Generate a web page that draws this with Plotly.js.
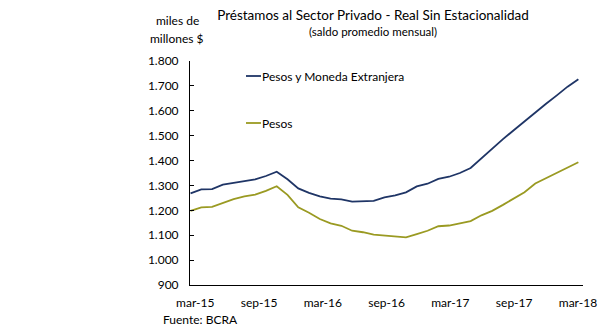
<!DOCTYPE html>
<html>
<head>
<meta charset="utf-8">
<script src="https://cdn.plot.ly/plotly-3.0.1.min.js"></script>
<style>
  html, body { margin: 0; padding: 0; background: #ffffff; }
  #chart { width: 608px; height: 328px; }
</style>
</head>
<body>
<div id="chart"></div>
<script>
// Monthly periods, mar-15 .. mar-18
const months = [
  'mar-15','abr-15','may-15','jun-15','jul-15','ago-15','sep-15','oct-15','nov-15','dic-15',
  'ene-16','feb-16','mar-16','abr-16','may-16','jun-16','jul-16','ago-16','sep-16','oct-16','nov-16','dic-16',
  'ene-17','feb-17','mar-17','abr-17','may-17','jun-17','jul-17','ago-17','sep-17','oct-17','nov-17','dic-17',
  'ene-18','feb-18','mar-18'
];

// Pesos y Moneda Extranjera (miles de millones $)
const pesosYME = [
  1268, 1284, 1285, 1303, 1310, 1317, 1324, 1338, 1355, 1325,
  1288, 1270, 1256, 1247, 1244, 1235, 1236, 1238, 1252, 1260, 1272, 1296,
  1307, 1326, 1335, 1350, 1370, 1410, 1450, 1486, 1522, 1558, 1593, 1628,
  1662, 1697, 1727
];

// Pesos (miles de millones $)
const pesos = [
  1198, 1212, 1214, 1230, 1245, 1256, 1263, 1278, 1297, 1262,
  1212, 1190, 1165, 1148, 1138, 1118, 1112, 1102, 1098, 1092, 1091, 1104,
  1118, 1136, 1139, 1148, 1157, 1180, 1198, 1222, 1248, 1273, 1308, 1329,
  1348, 1371, 1393
];

const tickLabels = ['mar-15','sep-15','mar-16','sep-16','mar-17','sep-17','mar-18'];
const seriesNames = ['Pesos y Moneda Extranjera', 'Pesos'];

const COL_BLUE = '#1f3566';
const COL_OLIVE = '#9a9a22';
const FONT = 'Lato, "Open Sans", sans-serif';

const xIdx = months.map((m, i) => i);

// axis layout constants (positions in month-index units)
const X_RANGE = [-0.05, 36.43];
const STEP = 5.92;
const labelPos = tickLabels.map((t, k) => 0.44 + STEP * k);
const tickPos = tickLabels.map((t, k) => -0.05 + STEP * k).slice(1);

// plot-area geometry helpers (pixels -> paper)
const PL = 190, PW = 393, PT = 61, PH = 224;
const px = v => (v - PL) / PW;
const py = v => 1 - (v - PT) / PH;

const traces = [
  {
    x: xIdx, y: pesosYME, type: 'scatter', mode: 'lines', name: seriesNames[0],
    line: { color: COL_BLUE, width: 1.8 }, showlegend: false, xaxis: 'x', yaxis: 'y'
  },
  {
    x: xIdx, y: pesos, type: 'scatter', mode: 'lines', name: seriesNames[1],
    line: { color: COL_OLIVE, width: 1.8 }, showlegend: false, xaxis: 'x', yaxis: 'y'
  }
];

const layout = {
  width: 608, height: 328,
  margin: { l: PL, r: 608 - PL - PW, t: PT, b: 328 - PT - PH, pad: 0 },
  paper_bgcolor: '#ffffff', plot_bgcolor: '#ffffff',
  separators: ',.',
  font: { family: FONT, size: 12, color: '#000000' },
  showlegend: false,
  title: {
    text: 'Préstamos al Sector Privado - Real Sin Estacionalidad',
    font: { family: FONT, size: 13.5, color: '#000000' },
    x: 373 / 608, xanchor: 'center', xref: 'container',
    y: 1 - 15 / 328, yanchor: 'middle', yref: 'container'
  },
  xaxis: {
    range: X_RANGE, showgrid: false, zeroline: false,
    showline: true, linecolor: '#000000', linewidth: 1,
    tickmode: 'array', tickvals: labelPos, ticktext: tickLabels,
    ticks: '', ticklabelstandoff: 7,
    tickfont: { family: FONT, size: 12, color: '#000000' }
  },
  xaxis2: {
    range: X_RANGE, overlaying: 'x', anchor: 'y', side: 'bottom',
    showgrid: false, zeroline: false, showline: false,
    tickmode: 'array', tickvals: tickPos, ticks: 'inside', ticklen: 4,
    tickcolor: '#000000', tickwidth: 1, showticklabels: false
  },
  yaxis: {
    range: [900, 1800], dtick: 100, tick0: 900, tickformat: ',d',
    showgrid: false, zeroline: false,
    showline: true, linecolor: '#000000', linewidth: 1,
    ticks: 'inside', ticklen: 4, tickcolor: '#000000', tickwidth: 1,
    ticklabelstandoff: 8,
    tickfont: { family: FONT, size: 12, color: '#000000' }
  },
  annotations: [
    { text: '(saldo promedio mensual)', xref: 'paper', yref: 'paper',
      x: px(373), y: py(32), xanchor: 'center', yanchor: 'middle',
      showarrow: false, font: { family: FONT, size: 11.5, color: '#000000' } },
    { text: 'miles de', xref: 'paper', yref: 'paper',
      x: px(177), y: py(21), xanchor: 'center', yanchor: 'middle',
      showarrow: false, font: { family: FONT, size: 12, color: '#000000' } },
    { text: 'millones $', xref: 'paper', yref: 'paper',
      x: px(177), y: py(38), xanchor: 'center', yanchor: 'middle',
      showarrow: false, font: { family: FONT, size: 12, color: '#000000' } },
    { text: 'Fuente: BCRA', xref: 'paper', yref: 'paper',
      x: px(161), y: py(319), xanchor: 'left', yanchor: 'middle',
      showarrow: false, font: { family: FONT, size: 12, color: '#000000' } },
    { text: seriesNames[0], xref: 'paper', yref: 'paper',
      x: px(260), y: py(76), xanchor: 'left', yanchor: 'middle',
      showarrow: false, font: { family: FONT, size: 12, color: '#000000' } },
    { text: seriesNames[1], xref: 'paper', yref: 'paper',
      x: px(260), y: py(123), xanchor: 'left', yanchor: 'middle',
      showarrow: false, font: { family: FONT, size: 12, color: '#000000' } }
  ],
  shapes: [
    { type: 'line', xref: 'paper', yref: 'paper',
      x0: px(246), x1: px(261), y0: py(76), y1: py(76),
      line: { color: COL_BLUE, width: 1.8 } },
    { type: 'line', xref: 'paper', yref: 'paper',
      x0: px(246), x1: px(261), y0: py(123), y1: py(123),
      line: { color: COL_OLIVE, width: 1.8 } }
  ]
};

Plotly.newPlot('chart', traces, layout, { displayModeBar: false, staticPlot: true });
</script>
</body>
</html>
